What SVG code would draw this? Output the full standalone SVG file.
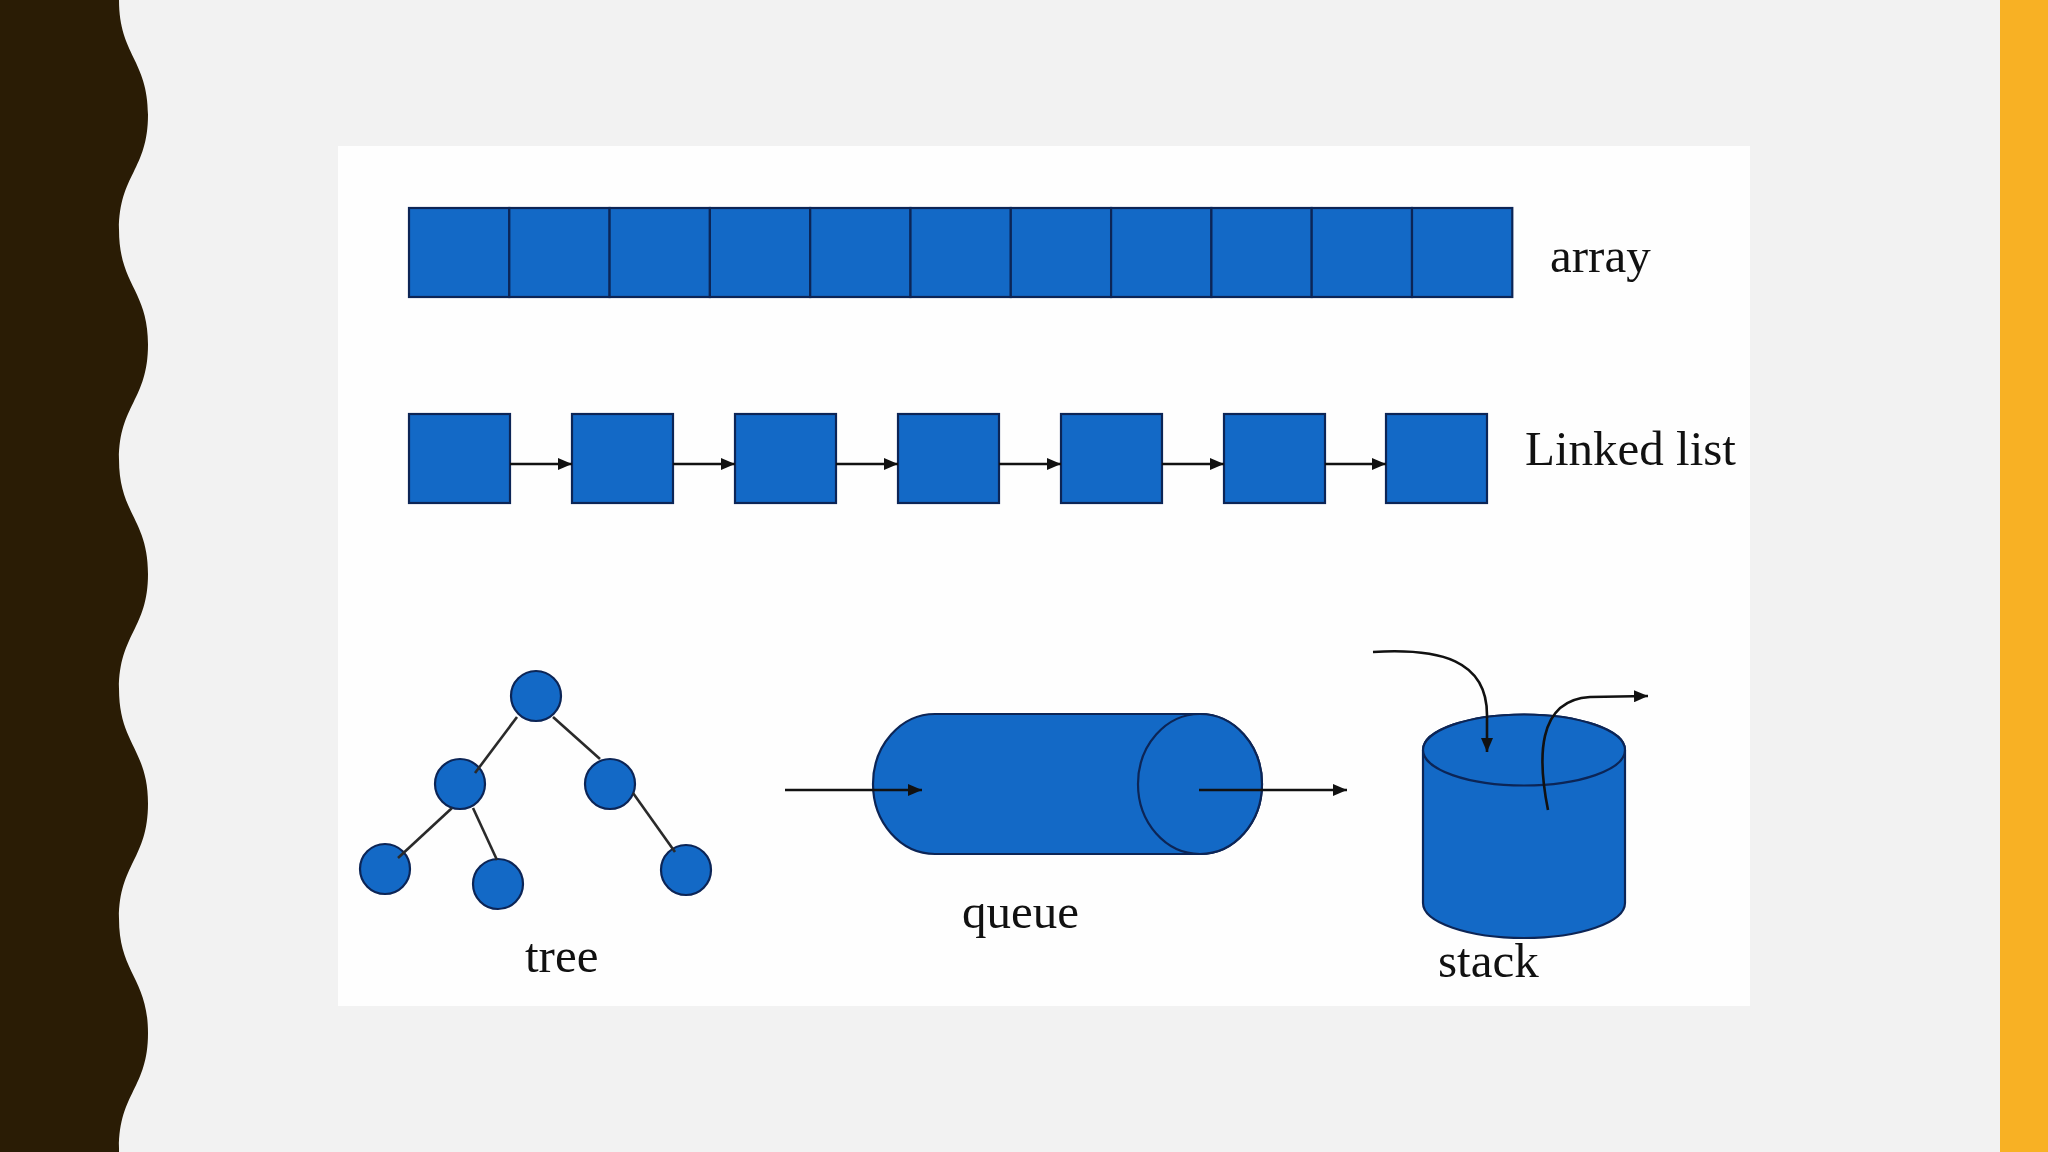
<svg xmlns="http://www.w3.org/2000/svg" width="2048" height="1152" viewBox="0 0 2048 1152">
<style>
.blk{fill:#1369C6;stroke:#0C2556;stroke-width:2.2}
.lbl{font-family:"Liberation Serif","Times New Roman",serif;font-size:49px;fill:#111}
.ln{fill:none;stroke:#111;stroke-width:2.6}
.edge{fill:none;stroke:#2a2a2a;stroke-width:2.6}
</style>
<defs>
<marker id="ah" markerUnits="userSpaceOnUse" markerWidth="16" markerHeight="12" refX="14" refY="6" orient="auto">
<path d="M0,0 L14,6 L0,12 Z" fill="#111"/>
</marker>
</defs>
<rect x="0" y="0" width="2048" height="1152" fill="#F2F2F2"/>
<path id="wave" fill="#2A1C05" d="M0,0 L119,0 C119,55 148,60 148,114.8 C148,170 119,175 119,229.6 C119,285 148,290 148,344.4 C148,400 119,405 119,459.2 C119,514 148,519 148,574 C148,629 119,634 119,688.8 C119,744 148,749 148,803.6 C148,859 119,864 119,918.4 C119,973 148,978 148,1033.2 C148,1088 119,1093 119,1148 L119,1152 L0,1152 Z"/>
<rect id="bar" x="2000" y="0" width="48" height="1152" fill="#F8B124"/>
<rect id="panel" x="338" y="146" width="1412" height="860" fill="#FEFEFE"/>

<g id="array">
<rect class="blk" x="409" y="208" width="100.3" height="89"/>
<rect class="blk" x="509.3" y="208" width="100.3" height="89"/>
<rect class="blk" x="609.6" y="208" width="100.3" height="89"/>
<rect class="blk" x="709.9" y="208" width="100.3" height="89"/>
<rect class="blk" x="810.2" y="208" width="100.3" height="89"/>
<rect class="blk" x="910.5" y="208" width="100.3" height="89"/>
<rect class="blk" x="1010.8" y="208" width="100.3" height="89"/>
<rect class="blk" x="1111.1" y="208" width="100.3" height="89"/>
<rect class="blk" x="1211.4" y="208" width="100.3" height="89"/>
<rect class="blk" x="1311.7" y="208" width="100.3" height="89"/>
<rect class="blk" x="1412" y="208" width="100.3" height="89"/>
<text class="lbl" x="1550" y="272">array</text>
</g>

<g id="linked-list">
<rect class="blk" x="409" y="414" width="101" height="89"/>
<rect class="blk" x="572" y="414" width="101" height="89"/>
<rect class="blk" x="735" y="414" width="101" height="89"/>
<rect class="blk" x="898" y="414" width="101" height="89"/>
<rect class="blk" x="1061" y="414" width="101" height="89"/>
<rect class="blk" x="1224" y="414" width="101" height="89"/>
<rect class="blk" x="1386" y="414" width="101" height="89"/>
<text class="lbl" x="1525" y="465">Linked list</text>
</g>

<g id="tree">
<circle class="blk" cx="536" cy="696" r="25"/>
<circle class="blk" cx="460" cy="784" r="25"/>
<circle class="blk" cx="610" cy="784" r="25"/>
<circle class="blk" cx="385" cy="869" r="25"/>
<circle class="blk" cx="498" cy="884" r="25"/>
<circle class="blk" cx="686" cy="870" r="25"/>
<text class="lbl" x="525" y="972">tree</text>
</g>

<g id="queue">
<path class="blk" d="M935,714 H1200 A62,70 0 0 1 1200,854 H935 A62,70 0 0 1 935,714 Z"/>
<ellipse class="blk" cx="1200" cy="784" rx="62" ry="70"/>
<text class="lbl" x="962" y="928">queue</text>
</g>

<g id="stack">
<path class="blk" d="M1423,750 A101,35.5 0 0 1 1625,750 V903 A101,35 0 0 1 1423,903 Z"/>
<ellipse class="blk" cx="1524" cy="750" rx="101" ry="35.5"/>
<text class="lbl" x="1438" y="977">stack</text>
</g>

<g id="connectors">
<line class="ln" x1="510" y1="464" x2="572" y2="464" marker-end="url(#ah)"/>
<line class="ln" x1="673" y1="464" x2="735" y2="464" marker-end="url(#ah)"/>
<line class="ln" x1="836" y1="464" x2="898" y2="464" marker-end="url(#ah)"/>
<line class="ln" x1="999" y1="464" x2="1061" y2="464" marker-end="url(#ah)"/>
<line class="ln" x1="1162" y1="464" x2="1224" y2="464" marker-end="url(#ah)"/>
<line class="ln" x1="1325" y1="464" x2="1386" y2="464" marker-end="url(#ah)"/>
<line class="edge" x1="517" y1="717" x2="475" y2="773"/>
<line class="edge" x1="553" y1="717" x2="600" y2="759"/>
<line class="edge" x1="452" y1="808" x2="398" y2="858"/>
<line class="edge" x1="473" y1="808" x2="497" y2="860"/>
<line class="edge" x1="633" y1="793" x2="675" y2="852"/>
<line class="ln" x1="785" y1="790" x2="922" y2="790" marker-end="url(#ah)"/>
<line class="ln" x1="1199" y1="790" x2="1347" y2="790" marker-end="url(#ah)"/>
<path class="ln" d="M1373,652 C1440,648 1487,660 1487,715 L1487,752" marker-end="url(#ah)"/>
<path class="ln" d="M1548,810 C1538,760 1536,700 1590,697 L1648,696" marker-end="url(#ah)"/>
</g>
</svg>
